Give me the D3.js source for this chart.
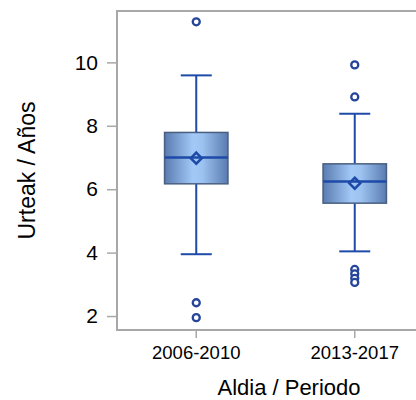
<!DOCTYPE html>
<html>
  <head>
    <meta charset="utf-8">
    <style>
      body { margin: 0; background: #fff; }
      svg { display: block; font-family: "Liberation Sans", Arial, sans-serif; }
      .frame { fill: none; stroke: #a8a8a8; stroke-width: 2px; }
      .tick line { stroke: #a8a8a8; stroke-width: 1.5px; }
      .tick text { fill: #000; }
      .whisker { stroke: #1e4aa8; stroke-width: 2px; fill: none; }
      .box { stroke: #4a5f80; stroke-width: 1.5px; }
      .median { stroke: #1e4aa8; stroke-width: 2.5px; }
      .mean { fill: none; stroke: #1e4aa8; stroke-width: 2.5px; }
      .outlier { fill: #fff; stroke: #25449a; stroke-width: 2.3px; }
    </style>
  </head>
  <body>
    <svg width="416" height="400"></svg>
    <script src="https://cdnjs.cloudflare.com/ajax/libs/d3/7.8.5/d3.min.js"></script>
    <script>
      var periods = ["2006-2010", "2013-2017"];
      var q1 = [6.17, 5.56],
          median = [7.0, 6.24],
          q3 = [7.79, 6.80],
          whiskerLow = [3.95, 4.04],
          whiskerHigh = [9.59, 8.38],
          means = [6.98, 6.19];
      var outliers = [
        [11.28, 2.42, 1.95],
        [9.92, 8.91, 3.47, 3.33, 3.19, 3.06]
      ];
      var yTicks = [2, 4, 6, 8, 10];

      var svg = d3.select("svg"),
          pLeft = 117, pRight = 434, pTop = 11, pBottom = 330;

      var x = d3.scaleBand().domain(periods).range([pLeft, pRight]).paddingInner(0.6).paddingOuter(0.3);
      var y = d3.scaleLinear().domain([1.56, 11.62]).range([pBottom, pTop]);

      var defs = svg.append("defs");
      var grad = defs.append("linearGradient").attr("id", "boxfill")
                     .attr("x1", "0%").attr("x2", "100%").attr("y1", "0%").attr("y2", "0%");
      grad.append("stop").attr("offset", "0%").attr("stop-color", "#5a7bb0");
      grad.append("stop").attr("offset", "45%").attr("stop-color", "#a2c9f7");
      grad.append("stop").attr("offset", "60%").attr("stop-color", "#9cc2f0");
      grad.append("stop").attr("offset", "100%").attr("stop-color", "#5a7bb0");

      var yAxis = svg.append("g")
          .attr("transform", "translate(" + pLeft + ",0)")
          .call(d3.axisLeft(y).tickValues(yTicks).tickSize(10).tickPadding(9));
      yAxis.select(".domain").remove();
      yAxis.selectAll("text").style("font-size", "21px");

      var xAxis = svg.append("g")
          .attr("transform", "translate(0," + pBottom + ")")
          .call(d3.axisBottom(x).tickSize(8).tickPadding(8));
      xAxis.select(".domain").remove();
      xAxis.selectAll("text").style("font-size", "18.5px");

      svg.append("rect").attr("class", "frame")
         .attr("x", pLeft).attr("y", pTop)
         .attr("width", pRight - pLeft).attr("height", pBottom - pTop);

      var cap = 31;
      periods.forEach(function(p, i) {
        var cx = x(p) + x.bandwidth() / 2,
            bw = x.bandwidth(),
            g = svg.append("g");
        g.append("line").attr("class", "whisker")
         .attr("x1", cx).attr("x2", cx).attr("y1", y(q3[i])).attr("y2", y(whiskerHigh[i]));
        g.append("line").attr("class", "whisker")
         .attr("x1", cx).attr("x2", cx).attr("y1", y(q1[i])).attr("y2", y(whiskerLow[i]));
        [whiskerHigh[i], whiskerLow[i]].forEach(function(v) {
          g.append("line").attr("class", "whisker")
           .attr("x1", cx - cap / 2).attr("x2", cx + cap / 2).attr("y1", y(v)).attr("y2", y(v));
        });
        g.append("rect").attr("class", "box")
         .attr("x", x(p)).attr("width", bw)
         .attr("y", y(q3[i])).attr("height", y(q1[i]) - y(q3[i]))
         .attr("fill", "url(#boxfill)");
        g.append("line").attr("class", "median")
         .attr("x1", x(p)).attr("x2", x(p) + bw).attr("y1", y(median[i])).attr("y2", y(median[i]));
        var my = y(means[i]), d = 5.5;
        g.append("path").attr("class", "mean")
         .attr("d", "M" + cx + "," + (my - d) + "L" + (cx + d) + "," + my + "L" + cx + "," + (my + d) + "L" + (cx - d) + "," + my + "Z");
        g.selectAll(".outlier").data(outliers[i]).enter().append("circle")
         .attr("class", "outlier").attr("cx", cx).attr("cy", function(v) { return y(v); }).attr("r", 3.5);
      });

      svg.append("text")
         .attr("x", 289).attr("y", 395)
         .attr("text-anchor", "middle").style("font-size", "22px")
         .text("Aldia / Periodo");
      svg.append("text")
         .attr("transform", "translate(35," + ((pTop + pBottom) / 2) + ")rotate(-90)")
         .attr("text-anchor", "middle").style("font-size", "23px")
         .text("Urteak / Años");
    </script>
  </body>
</html>
